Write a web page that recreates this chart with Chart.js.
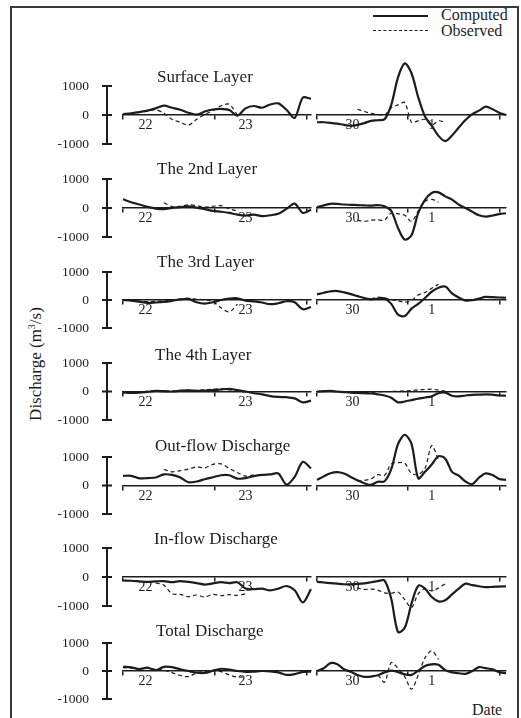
<!DOCTYPE html>
<html>
<head>
<meta charset="utf-8">
<script src="https://cdn.jsdelivr.net/npm/chart.js@4.4.0/dist/chart.umd.min.js"></script>
<style>
  html, body { margin: 0; padding: 0; background: #fff; }
  #fig { position: relative; width: 521px; height: 718px; overflow: hidden;
         font-family: 'Liberation Serif', 'Times New Roman', serif; color: #1c1c1c; }
  #frame { position: absolute; left: 10px; top: 6px; width: 509px; height: 740px;
           border: 2px solid #3a3a3a; box-sizing: border-box; }
  canvas { position: absolute; }
  .ttl { position: absolute; font-size: 17px; line-height: 20px; white-space: nowrap; }
  .key { position: absolute; font-size: 16px; line-height: 20px; white-space: nowrap; }
  .swatch { position: absolute; left: 373px; width: 55px; height: 0; }
  #ylab { position: absolute; left: 36px; top: 364px; font-size: 17px; white-space: nowrap;
          transform: translate(-50%, -50%) rotate(-90deg); }
  #ylab sup { font-size: 10px; }
  #xlab { position: absolute; left: 472px; top: 700px; font-size: 16px; line-height: 20px; }
</style>
</head>
<body>
<div id="fig">
  <div id="frame"></div>
  <div class="swatch" style="top:15px;border-top:2px solid #1c1c1c"></div>
  <div class="swatch" style="top:30px;border-top:1px dashed #1c1c1c"></div>
  <div class="key" style="left:441px;top:5px">Computed</div>
  <div class="key" style="left:441px;top:21px">Observed</div>
  <div id="ylab">Discharge (m<sup>3</sup>/s)</div>
  <div id="xlab">Date</div>
</div>
<script>
// sampling hours for the two periods (22-23 and 30-1)
const hoursA = [0, 2, 4, 6, 8, 10, 12, 14, 16, 18, 20, 22, 24, 26, 28, 30, 32, 34, 36, 38, 40, 42, 44, 46]
const hoursB = [0, 2, 4, 6, 8, 10, 12, 14, 16, 18, 20, 22, 24, 26, 28, 30, 32, 34, 36, 38, 40, 42, 44, 46, 48, 50, 52, 54, 56]

const dayHoursA = [5.5, 30]
const dayNamesA = ['22', '23']
const dayHoursB = [10.5, 34]
const dayNamesB = ['30', '1']
const markHoursA = [0, 5.5, 22.5, 30, 45]
const markHoursB = [0, 10.5, 27, 34, 54]

const yTicks = [-1000, 0, 1000]

const panelTitles = ['Surface Layer', 'The 2nd Layer', 'The 3rd Layer', 'The 4th Layer',
  'Out-flow Discharge', 'In-flow Discharge', 'Total Discharge']

// discharge, m3/s
const surfCompA = [30, 60, 100, 150, 230, 320, 250, 180, 80, 10, 120, 190, 210, 170, -20, 230, 310, 250, 360, 400, 180, -100, 600, 560]
const surfObsA = [20, 50, 90, 130, 180, 60, -150, -250, -350, -150, 20, 150, 320, 370, 0, null, null, null, null, null, null, null, null, null]
const surfCompB = [-250, -250, -270, -300, -340, -370, -340, -280, -200, -180, -150, 350, 1300, 1780, 1440, 610, -50, -370, -720, -900, -710, -430, -170, 30, 150, 290, 200, 80, 0]
const surfObsB = [null, null, null, null, null, null, 200, 120, 60, 20, 0, 250, 350, 430, -250, -200, -150, -350, -200, -250, null, null, null, null, null, null, null, null, null]

const l2CompA = [300, 200, 120, 40, -20, -40, 0, 30, 60, 10, -40, -100, -130, -170, -230, -260, -230, -280, -250, -200, -30, 150, -170, -60]
const l2ObsA = [null, null, null, null, null, 180, 50, 60, 110, 80, 30, 60, 80, -30, -100, null, null, null, null, null, null, null, null, null]
const l2CompB = [30, 90, 145, 140, 120, 110, 100, 90, 80, 100, 60, -100, -690, -1090, -940, -170, 280, 520, 540, 400, 290, 115, 0, -130, -250, -300, -260, -210, -180]
const l2ObsB = [null, null, null, null, null, null, -420, -460, -420, -410, -420, -170, -200, -250, -460, -100, 230, 300, 200, null, null, null, null, null, null, null, null, null, null]

const l3CompA = [0, -20, -60, -100, -90, -70, -30, 20, 40, -80, -130, -80, 0, 50, 60, -25, -50, -90, -150, -115, -45, -80, -330, -250]
const l3ObsA = [0, -10, -40, -60, -50, -30, 0, 30, 60, 30, 0, -50, -280, -420, -150, null, null, null, null, null, null, null, null, null]
const l3CompB = [200, 260, 310, 320, 270, 210, 140, 70, 20, 50, 60, -140, -520, -575, -310, -140, 70, 300, 440, 480, 240, 90, -20, -10, 50, 110, 100, 90, 80]
const l3ObsB = [null, null, null, null, null, null, null, null, 40, 100, 70, 10, -30, -80, -20, 180, 270, 420, 560, null, null, null, null, null, null, null, null, null, null]

const l4CompA = [-40, -50, -40, -10, 20, 10, 0, 30, 40, 20, 30, 50, 70, 90, 50, 0, -60, -100, -160, -190, -200, -240, -380, -320]
const l4ObsA = [-20, -30, -20, 10, 30, 20, 10, 20, 50, 40, 60, 80, 100, 60, 20, -20, null, null, null, null, null, null, null, null]
const l4CompB = [0, 10, 20, 0, -20, -40, -50, -60, -70, -100, -140, -220, -380, -350, -300, -250, -210, -170, -60, -40, -150, -170, -140, -120, -110, -100, -110, -140, -150]
const l4ObsB = [null, null, null, null, null, -20, -30, -40, -30, -10, 0, 0, 10, 20, 30, 60, 70, 80, 50, 10, null, null, null, null, null, null, null, null, null]

const outCompA = [340, 340, 250, 260, 280, 390, 370, 280, 115, 140, 220, 290, 360, 360, 240, 260, 330, 370, 390, 420, 30, 300, 830, 600]
const outObsA = [null, null, null, null, null, 560, 480, 520, 575, 655, 620, 740, 760, 600, 450, 330, 370, null, null, null, null, null, null, null]
const outCompB = [200, 320, 430, 470, 420, 300, 180, 80, 20, 130, 150, 575, 1450, 1780, 1460, 250, 480, 740, 1030, 940, 480, 345, 140, 45, 275, 425, 370, 230, 200]
const outObsB = [null, null, null, null, null, null, 150, 180, 230, 380, 350, 760, 800, 780, 420, 390, 600, 1400, 900, null, null, null, null, null, null, null, null, null, null]

const inCompA = [-120, -130, -150, -170, -150, -140, -180, -140, -170, -210, -260, -220, -180, -210, -180, -400, -420, -400, -460, -400, -310, -460, -880, -420]
const inObsA = [null, null, null, null, -200, -280, -580, -600, -680, -620, -690, -600, -640, -610, -630, -580, null, null, null, null, null, null, null, null]
const inCompB = [-170, -190, -210, -230, -250, -250, -240, -220, -180, -140, -120, -750, -1900, -1750, -920, -300, -400, -690, -840, -800, -600, -400, -230, -280, -320, -350, -340, -330, -320]
const inObsB = [null, null, null, null, null, -250, -380, -430, -420, -450, -550, -560, -520, -780, -1050, -580, -400, -480, -380, -230, null, null, null, null, null, null, null, null, null]

const totCompA = [150, 130, 70, 120, 30, 150, 140, 60, 0, -60, -70, 10, 80, 50, 0, -30, -20, 0, -10, -50, -140, -110, -30, -20]
const totObsA = [120, 100, 80, 100, 60, 30, -60, -160, -200, -70, -20, 20, -20, -140, -220, -200, null, null, null, null, null, null, null, null]
const totCompB = [0, 100, 280, 240, 60, -30, -140, -210, -200, -150, -50, 10, -40, -120, -140, 10, 180, 240, 220, 30, -50, -80, -100, 0, 140, 100, 60, -40, -80]
const totObsB = [null, null, null, null, null, null, null, null, -200, -150, -400, 300, 90, -200, -650, -140, 470, 725, 415, null, null, null, null, null, null, null, null, null, null]

const series = [
  [surfCompA, surfObsA, surfCompB, surfObsB],
  [l2CompA, l2ObsA, l2CompB, l2ObsB],
  [l3CompA, l3ObsA, l3CompB, l3ObsB],
  [l4CompA, l4ObsA, l4CompB, l4ObsB],
  [outCompA, outObsA, outCompB, outObsB],
  [inCompA, inObsA, inCompB, inObsB],
  [totCompA, totObsA, totCompB, totObsB],
]

// layout: pixel rows of +1000 / -1000 for each panel, title placement
const panelTop = [86, 179, 272, 363, 457, 548, 643]
const panelBottom = [144, 237, 328, 420, 514, 606, 699]
const titleTop = [67, 159, 252, 345, 436, 529, 621]
const titleLeft = [157, 157, 157, 155, 155, 154, 156]

const INK = '#1c1c1c'
const SERIF = "'Liberation Serif', 'Times New Roman', serif"
const PAD = 40
const fig = document.getElementById('fig')

function addCanvas(left, top, width, height) {
  const c = document.createElement('canvas')
  c.width = width
  c.height = height
  c.style.left = left + 'px'
  c.style.top = top + 'px'
  c.style.width = width + 'px'
  c.style.height = height + 'px'
  fig.appendChild(c)
  return c
}

// vertical bar with T-caps, drawn a little left of the plot
const yAxisBar = {
  id: 'yAxisBar',
  afterDraw(chart) {
    const { ctx, chartArea, scales } = chart
    const y = scales.y
    const x = chartArea.left - 16
    ctx.save()
    ctx.strokeStyle = INK
    ctx.lineWidth = 2
    ctx.beginPath()
    ctx.moveTo(x, y.getPixelForValue(1000))
    ctx.lineTo(x, y.getPixelForValue(-1000))
    for (const t of y.ticks) {
      const py = y.getPixelForValue(t.value)
      ctx.moveTo(x - 5, py)
      ctx.lineTo(x + 5, py)
    }
    ctx.stroke()
    ctx.restore()
  },
}

function points(hours, values) {
  return hours.map((h, i) => ({ x: h, y: values[i] })).filter(p => p.y !== null)
}

function subplot(canvas, cfg) {
  const { hours, comp, obs, dayHours, dayNames, marks, xMax, withAxis, padding } = cfg
  return new Chart(canvas, {
    type: 'line',
    data: {
      datasets: [
        {
          label: 'Computed',
          data: points(hours, comp),
          borderColor: INK,
          borderWidth: 2.2,
          tension: 0.3,
          clip: false,
        },
        {
          label: 'Observed',
          data: points(hours, obs),
          borderColor: INK,
          borderWidth: 1.2,
          borderDash: [4, 3],
          tension: 0.3,
          clip: false,
        },
      ],
    },
    options: {
      responsive: false,
      animation: false,
      events: [],
      layout: { padding, autoPadding: false },
      elements: { point: { radius: 0 } },
      plugins: { legend: { display: false }, tooltip: { enabled: false } },
      scales: {
        x: {
          type: 'linear',
          min: 0,
          max: xMax,
          position: { y: 0 },
          border: { color: INK, width: 1.5 },
          grid: {
            drawOnChartArea: false,
            tickLength: 4,
            lineWidth: 1.5,
            color: c => (c.tick && dayHours.includes(c.tick.value) ? 'rgba(0,0,0,0)' : INK),
          },
          ticks: {
            autoSkip: false,
            maxRotation: 0,
            padding: -2,
            color: INK,
            font: { family: SERIF, size: 14 },
            callback: v => {
              const i = dayHours.indexOf(v)
              return i < 0 ? '' : dayNames[i]
            },
          },
          afterBuildTicks: s => { s.ticks = marks.map(v => ({ value: v })) },
        },
        y: {
          min: -1000,
          max: 1000,
          display: withAxis,
          border: { display: false },
          grid: { display: false },
          ticks: {
            padding: 26,
            color: INK,
            font: { family: SERIF, size: 13.5 },
            callback: v => String(v),
          },
          afterBuildTicks: s => { s.ticks = yTicks.map(v => ({ value: v })) },
          afterFit: s => { s.width = withAxis ? 83 : 0 },
        },
      },
    },
    plugins: withAxis ? [yAxisBar] : [],
  })
}

panelTitles.forEach((title, i) => {
  const [compA, obsA, compB, obsB] = series[i]
  const top = panelTop[i] - PAD
  const height = panelBottom[i] - panelTop[i] + 2 * PAD

  subplot(addCanvas(40, top, 273, height), {
    hours: hoursA, comp: compA, obs: obsA,
    dayHours: dayHoursA, dayNames: dayNamesA, marks: markHoursA,
    xMax: 46, withAxis: true,
    padding: { top: PAD, bottom: PAD, left: 0, right: 2 },
  })
  subplot(addCanvas(313, top, 200, height), {
    hours: hoursB, comp: compB, obs: obsB,
    dayHours: dayHoursB, dayNames: dayNamesB, marks: markHoursB,
    xMax: 56, withAxis: false,
    padding: { top: PAD, bottom: PAD, left: 4, right: 7 },
  })

  const t = document.createElement('div')
  t.className = 'ttl'
  t.style.left = titleLeft[i] + 'px'
  t.style.top = titleTop[i] + 'px'
  t.textContent = title
  fig.appendChild(t)
})
</script>
</body>
</html>
